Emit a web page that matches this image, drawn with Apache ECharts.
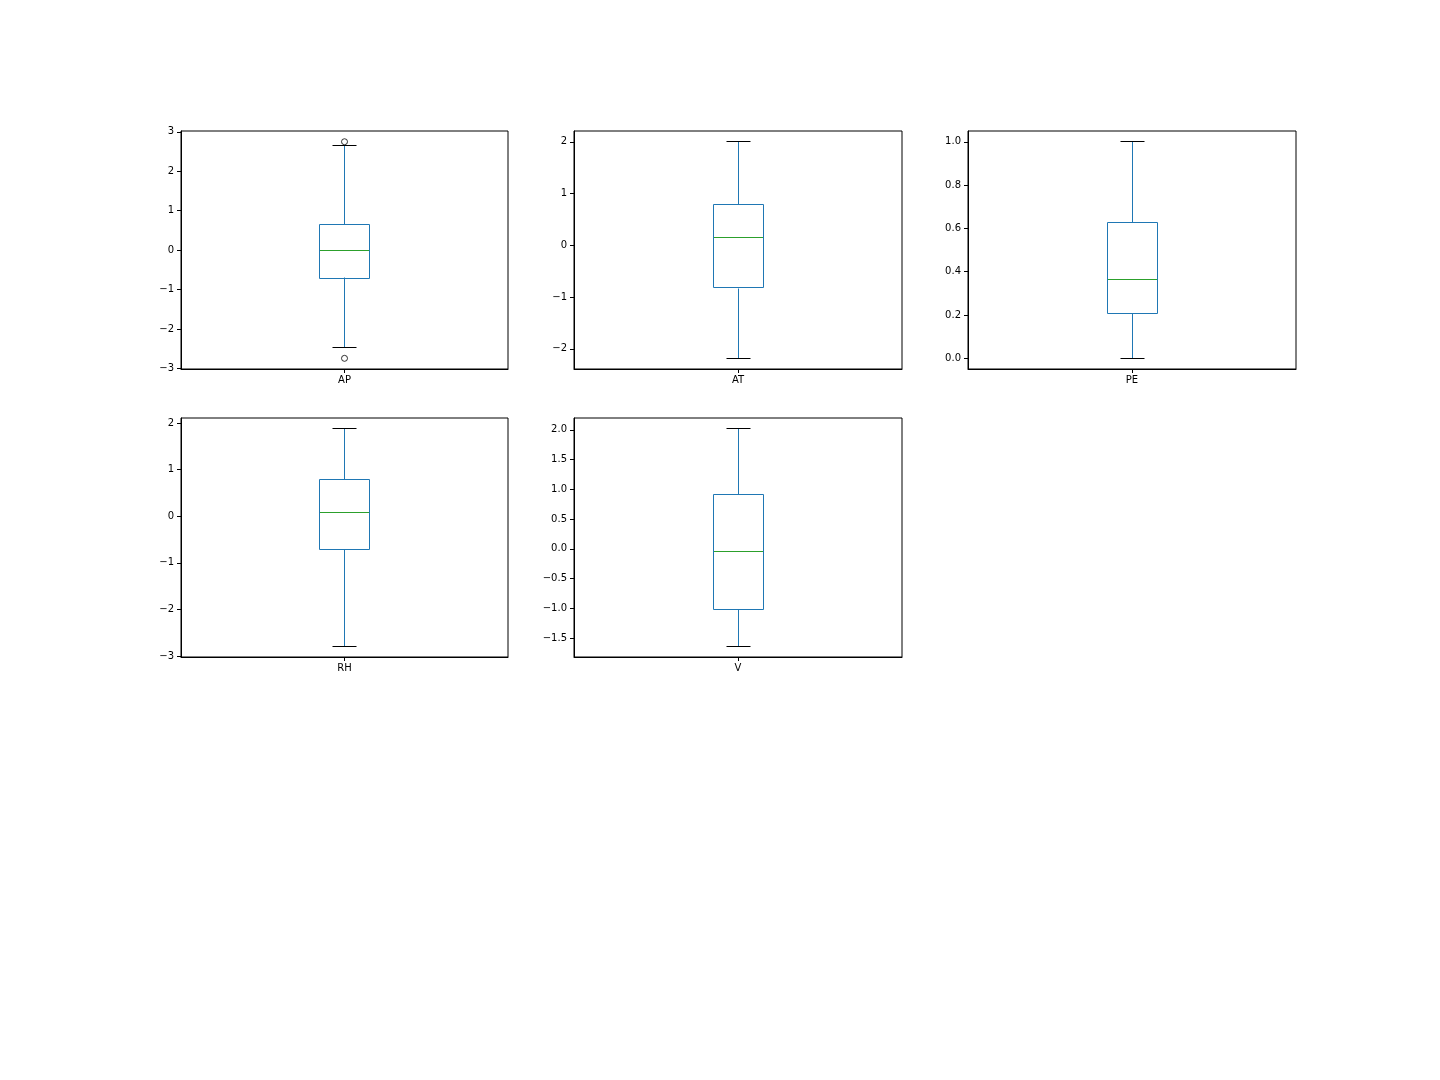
<!DOCTYPE html>
<html>
<head>
<meta charset="utf-8">
<script src="https://cdn.jsdelivr.net/npm/echarts@6/dist/echarts.min.js"></script>
<style>
html,body{margin:0;padding:0;background:#fff;}
#chart{width:1440px;height:1080px;}
</style>
</head>
<body>
<div id="chart"></div>
<script>
// ---- data ----
const categories   = ['AP', 'AT', 'PE', 'RH', 'V'];
const whiskerLow   = [-2.466, -2.19, 0.0, -2.79, -1.64];
const q1           = [-0.70, -0.827, 0.206, -0.714, -1.018];
const median       = [-0.02, 0.154, 0.362, 0.079, -0.045];
const q3           = [0.657, 0.78, 0.627, 0.786, 0.92];
const whiskerHigh  = [2.647, 2.0, 1.0, 1.879, 2.017];
const apOutliers   = [2.748, -2.74];
const yTicks = [
  [-3, -2, -1, 0, 1, 2, 3],
  [-2, -1, 0, 1, 2],
  [0.0, 0.2, 0.4, 0.6, 0.8, 1.0],
  [-3, -2, -1, 0, 1, 2],
  [-1.5, -1.0, -0.5, 0.0, 0.5, 1.0, 1.5, 2.0]
];
const tickDecimals = [0, 0, 1, 0, 1];
const yMin = [-3.01, -2.39, -0.05, -3.02, -1.82];
const yMax = [3.02, 2.21, 1.05, 2.11, 2.20];

// ---- layout ----
const grids = [
  {left: 181, top: 131, width: 327, height: 238},
  {left: 574, top: 131, width: 328, height: 238},
  {left: 968, top: 131, width: 328, height: 238},
  {left: 181, top: 418, width: 327, height: 239},
  {left: 574, top: 418, width: 328, height: 239}
];

const BLUE = '#1f77b4', GREEN = '#2ca02c', BLACK = '#000';
const FONT = 'DejaVu Sans';

function fmt(d) {
  return function (v) { return Number(v).toFixed(d).replace('-', '\u2212'); };
}
function crisp(v) { return Math.round(v - 0.5) + 0.5; }

function renderBox(params, api) {
  const x = api.value(0);
  const lo = api.coord([x, api.value(1)]);
  const b1 = api.coord([x, api.value(2)]);
  const md = api.coord([x, api.value(3)]);
  const b3 = api.coord([x, api.value(4)]);
  const hi = api.coord([x, api.value(5)]);
  const band = api.size([1, 0])[0];
  const hw = Math.round(band * 0.075);
  const cw = Math.round(band * 0.038);
  const cx = crisp(lo[0]);
  const ln = (x1, y1, x2, y2, c) => ({
    type: 'line',
    shape: {x1: x1, y1: crisp(y1), x2: x2, y2: crisp(y2)},
    style: {stroke: c, lineWidth: 1},
    z2: c === GREEN ? 10 : 1
  });
  return {
    type: 'group',
    children: [
      ln(cx, b1[1], cx, lo[1], BLUE),
      ln(cx, b3[1], cx, hi[1], BLUE),
      ln(cx - cw, lo[1], cx + cw, lo[1], BLACK),
      ln(cx - cw, hi[1], cx + cw, hi[1], BLACK),
      {
        type: 'rect',
        shape: {x: cx - hw, y: crisp(b3[1]), width: 2 * hw, height: Math.round(b1[1] - b3[1])},
        style: {fill: 'none', stroke: BLUE, lineWidth: 1}
      },
      ln(cx - hw + 0.5, md[1], cx + hw - 0.5, md[1], GREEN)
    ]
  };
}

const option = {
  animation: false,
  backgroundColor: '#fff',
  grid: grids.map(g => Object.assign({show: true, borderColor: BLACK, borderWidth: 1, backgroundColor: 'transparent'}, g)),
  xAxis: categories.map((c, i) => ({
    type: 'category',
    gridIndex: i,
    data: [c],
    position: 'bottom',
    axisLine: {show: true, onZero: false, lineStyle: {color: BLACK, width: 1}},
    axisTick: {show: true, alignWithLabel: true, length: 4, lineStyle: {color: BLACK}},
    axisLabel: {color: BLACK, fontFamily: FONT, fontSize: 10, margin: 6},
    splitLine: {show: false}
  })),
  yAxis: categories.map((c, i) => ({
    type: 'value',
    gridIndex: i,
    min: yMin[i],
    max: yMax[i],
    position: 'left',
    axisLine: {show: true, onZero: false, lineStyle: {color: BLACK, width: 1}},
    axisTick: {show: true, length: 4, lineStyle: {color: BLACK}, customValues: yTicks[i]},
    axisLabel: {color: BLACK, fontFamily: FONT, fontSize: 10, margin: 7,
      customValues: yTicks[i], formatter: fmt(tickDecimals[i])},
    splitLine: {show: false}
  })),
  series: categories.map((c, i) => ({
    type: 'custom',
    xAxisIndex: i,
    yAxisIndex: i,
    renderItem: renderBox,
    encode: {x: 0, y: [1, 2, 3, 4, 5]},
    data: [[0, whiskerLow[i], q1[i], median[i], q3[i], whiskerHigh[i]]],
    silent: true
  })).concat([{
    type: 'scatter',
    xAxisIndex: 0,
    yAxisIndex: 0,
    symbol: 'circle',
    symbolSize: 6,
    itemStyle: {color: 'rgba(0,0,0,0)', borderColor: BLACK, borderWidth: 1},
    data: apOutliers.map(v => [0, v]),
    silent: true
  }])
};

const chart = echarts.init(document.getElementById('chart'), null, {renderer: 'canvas'});
chart.setOption(option);
</script>
</body>
</html>
